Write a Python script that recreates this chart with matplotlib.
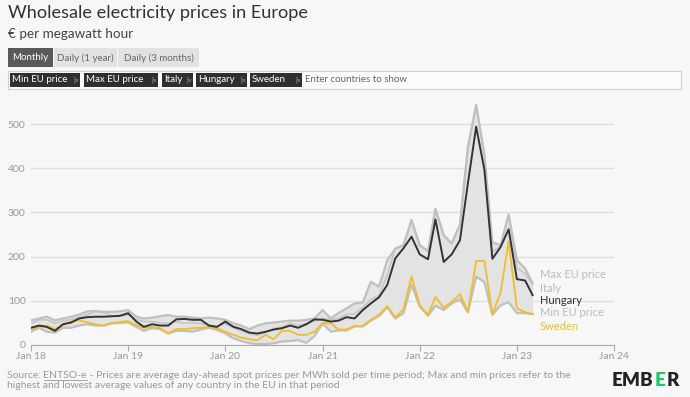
import matplotlib.pyplot as plt
import matplotlib.dates as mdates
from matplotlib.patches import Rectangle
from matplotlib.lines import Line2D
import pandas as pd

plt.rcParams['font.family'] = ['Lato', 'DejaVu Sans']

# monthly values, Jan 2018 - Mar 2023 (EUR/MWh)
months = pd.date_range('2018-01-01', periods=63, freq='MS')

hungary = [39, 44, 41, 32, 47, 51, 60, 63, 64, 64, 65, 66,
           72, 53, 41, 47, 44, 44, 58, 59, 57, 57, 44, 41,
           53, 41, 36, 28, 26, 30, 35, 38, 44, 39, 47, 58,
           57, 53, 55, 63, 60, 79, 94, 108, 136, 196, 219, 245,
           205, 194, 284, 188, 205, 237, 366, 494, 396, 195, 222, 262,
           149, 146, 113]

sweden = [36, 41, 44, 36, 45, 52, 56, 51, 47, 44, 50, 52,
          54, 45, 39, 41, 38, 26, 36, 36, 38, 39, 41, 38,
          30, 23, 17, 13, 11, 23, 13, 32, 32, 23, 23, 30,
          50, 49, 35, 35, 43, 43, 57, 68, 88, 62, 81, 155,
          90, 68, 109, 84, 98, 115, 75, 190, 190, 69, 119, 234,
          83, 74, 70]

italy = [49, 57, 57, 49, 55, 57, 63, 68, 76, 74, 66, 66,
         68, 58, 53, 53, 50, 49, 53, 49, 51, 48, 45, 42,
         48, 39, 32, 25, 22, 28, 38, 40, 49, 44, 49, 54,
         61, 57, 60, 69, 70, 85, 103, 112, 159, 218, 226, 281,
         224, 212, 308, 246, 230, 271, 442, 543, 430, 211, 224, 295,
         174, 161, 136]

max_eu = [56, 60, 64, 56, 60, 64, 69, 76, 77, 75, 75, 76,
          79, 64, 60, 62, 65, 68, 64, 64, 62, 60, 62, 60,
          57, 49, 44, 36, 44, 49, 51, 53, 55, 55, 57, 60,
          79, 60, 72, 83, 94, 96, 143, 132, 192, 218, 226, 283,
          226, 213, 308, 249, 230, 272, 449, 543, 430, 232, 226, 295,
          192, 173, 140]

min_eu = [30, 39, 30, 28, 39, 39, 44, 47, 44, 44, 49, 50,
          51, 41, 32, 38, 36, 26, 32, 32, 30, 35, 39, 34,
          26, 15, 9, 4, 2, 2, 4, 8, 9, 11, 5, 20,
          49, 30, 33, 33, 42, 42, 55, 66, 85, 60, 72, 136,
          87, 66, 89, 79, 94, 104, 74, 155, 142, 68, 90, 97,
          72, 72, 70]

W, H = 690, 397
BG = '#f7f7f7'


def fx(x):
    return x / W


def fy(y):
    return 1 - y / H


fig = plt.figure(figsize=(6.9, 3.97), dpi=100, facecolor=BG)

# header
fig.text(fx(8), fy(13), 'Wholesale electricity prices in Europe', fontsize=13.1,
         color='#333333', va='center')
fig.text(fx(8), fy(34), '€ per megawatt hour', fontsize=9.7, color='#444444', va='center')

# period buttons
buttons = [('Monthly', 8, 53, '#5a5a5a', 'white'),
           ('Daily (1 year)', 54, 117, '#e2e2e2', '#666666'),
           ('Daily (3 months)', 118, 199, '#e2e2e2', '#666666')]
for label, x0, x1, fc, tc in buttons:
    fig.add_artist(Rectangle((fx(x0), fy(67)), fx(x1) - fx(x0), 19 / H,
                             transform=fig.transFigure, fc=fc, ec='none'))
    fig.text(fx((x0 + x1) / 2), fy(58), label, fontsize=7, color=tc,
             ha='center', va='center')

# country selector box
fig.add_artist(Rectangle((fx(8), fy(89)), fx(681) - fx(8), 18 / H,
                         transform=fig.transFigure, fc='#fcfcfc', ec='#d0d0d0', lw=0.8))
tags = [('Min EU price', 10, 80), ('Max EU price', 84, 158), ('Italy', 162, 193),
        ('Hungary', 196, 247), ('Sweden', 250, 302)]
for label, x0, x1 in tags:
    fig.add_artist(Rectangle((fx(x0), fy(86.5)), fx(x1) - fx(x0), 13 / H,
                             transform=fig.transFigure, fc='#2f2f2f', ec='none'))
    fig.text(fx(x0 + 2), fy(80), label, fontsize=7, color='white', va='center')
    fig.text(fx(x1 - 1), fy(80), '|×', fontsize=5, color='#aaaaaa', va='center', ha='right')
fig.text(fx(305), fy(80), 'Enter countries to show', fontsize=7, color='#666666', va='center')

# chart
ax = fig.add_axes([fx(31), fy(345), fx(614) - fx(31), (345 - 97.5) / H])
ax.set_facecolor(BG)
ax.fill_between(months, min_eu, max_eu, color='#e3e3e3', lw=0)
ax.plot(months, italy, color='#c6c6c6', lw=1.2)
ax.plot(months, max_eu, color='#c0c0c0', lw=1.6)
ax.plot(months, min_eu, color='#c0c0c0', lw=1.6)
ax.plot(months, sweden, color='#f0bd2b', lw=1.3)
ax.plot(months, hungary, color='#333333', lw=1.4)

ax.set_xlim(pd.Timestamp('2018-01-01'), pd.Timestamp('2024-01-01'))
ax.set_ylim(0, 560)
ax.set_yticks([0, 100, 200, 300, 400, 500])
ax.grid(axis='y', color='#dedede', lw=1)
ax.set_axisbelow(True)
for s in ['top', 'right', 'left']:
    ax.spines[s].set_visible(False)
ax.spines['bottom'].set_color('#aaaaaa')
ax.xaxis.set_major_locator(mdates.YearLocator())
ax.xaxis.set_major_formatter(mdates.DateFormatter('Jan %y'))
ax.tick_params(axis='y', length=0, colors='#999999', labelsize=7.5, pad=4)
ax.tick_params(axis='x', length=4, color='#aaaaaa', colors='#999999', labelsize=7.5, pad=1)

# series labels
labels = [('Max EU price', 275, '#bbbbbb'), ('Italy', 288, '#bbbbbb'),
          ('Hungary', 301, '#333333'), ('Min EU price', 313, '#bbbbbb'),
          ('Sweden', 327, '#f0bd2b')]
for label, y, c in labels:
    fig.text(fx(540), fy(y), label, fontsize=8, color=c, va='center')

# footer
fig.canvas.draw()
r = fig.canvas.get_renderer()
t = fig.text(fx(7), fy(376), 'Source: ', fontsize=7.5, color='#999999', va='center')
bb = t.get_window_extent(r)
t2 = fig.text(bb.x1 / W, fy(376), 'ENTSO-e', fontsize=7.5, color='#999999', va='center')
bb2 = t2.get_window_extent(r)
fig.add_artist(Line2D([bb2.x0 / W, bb2.x1 / W], [(bb2.y0 + 0.5) / H] * 2,
                      transform=fig.transFigure, color='#999999', lw=0.6))
fig.text(bb2.x1 / W, fy(376),
         ' - Prices are average day-ahead spot prices per MWh sold per time period; '
         'Max and min prices refer to the',
         fontsize=7.5, color='#999999', va='center')
fig.text(fx(7), fy(386), 'highest and lowest average values of any country in the EU in that period',
         fontsize=7.5, color='#999999', va='center')

# logo
x = 612
for part, c in [('EMB', '#222222'), ('E', '#1fc46b'), ('R', '#222222')]:
    tt = fig.text(x / W, fy(381), part, fontsize=13.5, fontweight='heavy', color=c, va='center')
    x = tt.get_window_extent(r).x1 + 1

fig.savefig('out.png', dpi=100, facecolor=BG)
